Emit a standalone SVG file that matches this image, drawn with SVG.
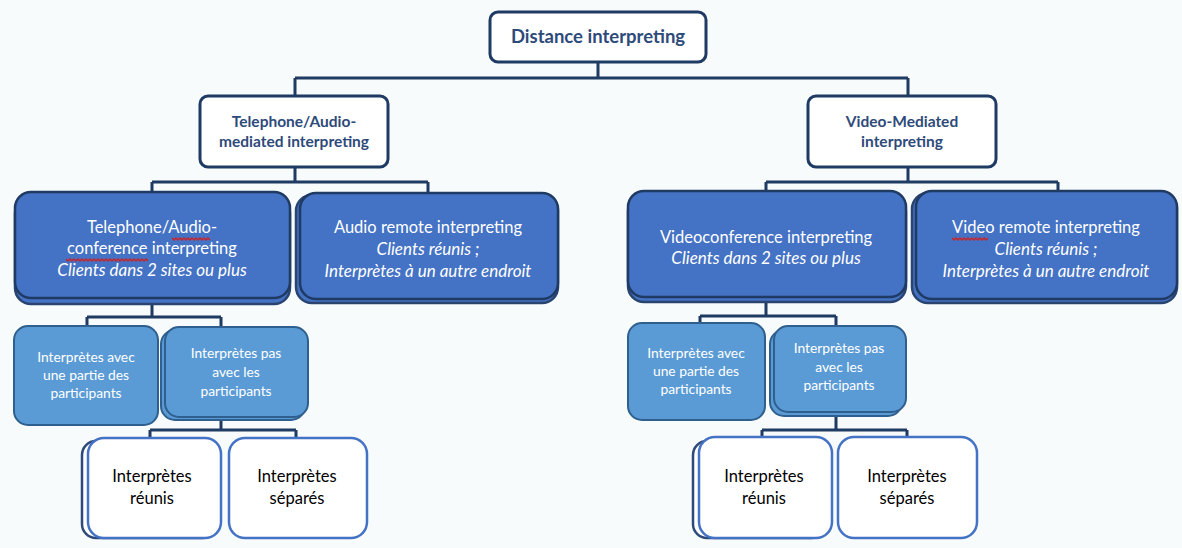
<svg xmlns="http://www.w3.org/2000/svg" width="1182" height="548" viewBox="0 0 1182 548">
<style>
.bg{fill:#f7fbfb}
.l1{fill:#ffffff;stroke:#1f3b63;stroke-width:3}
.l3{fill:#4472c4;stroke:#1f3b63;stroke-width:2.5}
.l3b{fill:#4472c4;stroke:#2a4470;stroke-width:2.5}
.l4{fill:#5b9bd5;stroke:#2e5f8f;stroke-width:2}
.l4b{fill:#5b9bd5;stroke:#2e5f8f;stroke-width:2}
.l5{fill:#ffffff;stroke:#4472c4;stroke-width:2.5}
.l5b{fill:#ffffff;stroke:#2e4a7a;stroke-width:2.5}
.conn{fill:none;stroke:#1f3b63;stroke-width:3}
.t1{font-family:Lato,"Liberation Sans",sans-serif;font-weight:bold;fill:#2e4a7a;text-anchor:middle}
.tw{font-family:Lato,"Liberation Sans",sans-serif;fill:#ffffff;text-anchor:middle;font-size:16.5px}
.tw4{font-family:Lato,"Liberation Sans",sans-serif;fill:#ffffff;text-anchor:middle;font-size:13.8px}
.tk{font-family:Lato,"Liberation Sans",sans-serif;fill:#000000;text-anchor:middle;font-size:16.5px}
.it{font-style:italic;font-size:17px}
.sq{fill:none;stroke:#d02020;stroke-width:1.3}
</style>
<rect class="bg" x="0" y="0" width="1182" height="548"/>
<g id="connectors">
<path class="conn" d="M598 62 V78 M295 78 H908 M295 78 V95 M908 78 V95"/>
<path class="conn" d="M295 167 V182 M152 182 H428 M152 182 V192 M428 182 V193"/>
<path class="conn" d="M908 167 V182 M766 182 H1058 M766 182 V191 M1058 182 V191"/>
<path class="conn" d="M152 302 V317 M87 317 H221 M87 317 V325 M221 317 V326"/>
<path class="conn" d="M221 418 V430 M150 430 H296 M150 430 V438 M296 430 V438"/>
<path class="conn" d="M766 302 V316 M700 316 H836 M700 316 V323 M836 316 V326"/>
<path class="conn" d="M836 414 V430 M762 430 H907 M762 430 V437 M907 430 V437"/>
</g>
<g id="n-distance">
<rect class="l1" x="490" y="12" width="216" height="50" rx="8"/>
<text class="t1" x="598" y="43" font-size="18.5">Distance interpreting</text>
</g>
<g id="n-audio-mediated">
<rect class="l1" x="200" y="96" width="188" height="71" rx="8"/>
<text class="t1" x="294" y="127" font-size="15.5">Telephone/Audio-</text>
<text class="t1" x="294" y="147" font-size="15.5">mediated interpreting</text>
</g>
<g id="n-video-mediated">
<rect class="l1" x="808" y="96" width="188" height="71" rx="8"/>
<text class="t1" x="902" y="127" font-size="15.5">Video-Mediated</text>
<text class="t1" x="902" y="147" font-size="15.5">interpreting</text>
</g>
<g id="n-tel-conf">
<rect class="l3b" x="15" y="198" width="275" height="106" rx="16"/>
<rect class="l3" x="15" y="192" width="275" height="106" rx="16"/>
<text class="tw" x="152" y="233">Telephone/Audio-</text>
<text class="tw" x="152" y="254">conference interpreting</text>
<text class="tw it" x="152" y="276">Clients dans 2 sites ou plus</text>
<path class="sq" d="M172 238 l2 2 l2 -2 l2 2 l2 -2 l2 2 l2 -2 l2 2 l2 -2 l2 2 l2 -2 l2 2 l2 -2 l2 2 l2 -2 l2 2 l2 -2 l2 2 l2 -2 l2 2"/>
<path class="sq" d="M66 259 l2 2 l2 -2 l2 2 l2 -2 l2 2 l2 -2 l2 2 l2 -2 l2 2 l2 -2 l2 2 l2 -2 l2 2 l2 -2 l2 2 l2 -2 l2 2 l2 -2 l2 2 l2 -2 l2 2 l2 -2 l2 2 l2 -2 l2 2 l2 -2 l2 2 l2 -2 l2 2 l2 -2 l2 2 l2 -2 l2 2 l2 -2 l2 2 l2 -2 l2 2 l2 -2 l2 2 l2 -2 l2 2"/>
</g>
<g id="n-audio-remote">
<rect class="l3b" x="296" y="195" width="262" height="108" rx="16"/>
<rect class="l3" x="300" y="193" width="258" height="106" rx="16"/>
<text class="tw" x="428" y="233">Audio remote  interpreting</text>
<text class="tw it" x="428" y="255">Clients réunis ;</text>
<text class="tw it" x="428" y="277">Interprètes à un autre endroit</text>
</g>
<g id="n-videoconf">
<rect class="l3b" x="628" y="196" width="278" height="106" rx="16"/>
<rect class="l3" x="628" y="191" width="278" height="106" rx="16"/>
<text class="tw" x="766" y="243">Videoconference interpreting</text>
<text class="tw it" x="766" y="264">Clients dans 2 sites ou plus</text>
</g>
<g id="n-video-remote">
<rect class="l3b" x="912" y="193" width="265" height="110" rx="16"/>
<rect class="l3" x="916" y="191" width="261" height="108" rx="16"/>
<text class="tw" x="1046" y="233">Video remote  interpreting</text>
<text class="tw it" x="1046" y="255">Clients réunis ;</text>
<text class="tw it" x="1046" y="277">Interprètes à un autre endroit</text>
<path class="sq" d="M952 238 l2 2 l2 -2 l2 2 l2 -2 l2 2 l2 -2 l2 2 l2 -2 l2 2 l2 -2 l2 2 l2 -2 l2 2 l2 -2 l2 2 l2 -2 l2 2 l2 -2"/>
</g>
<g id="n-tel-avec">
<rect class="l4" x="14" y="326" width="144" height="99" rx="14"/>
<text class="tw4" x="86" y="362">Interprètes avec</text>
<text class="tw4" x="86" y="380">une partie des</text>
<text class="tw4" x="86" y="398">participants</text>
</g>
<g id="n-tel-pas">
<rect class="l4b" x="161" y="330" width="144" height="90" rx="14"/>
<rect class="l4" x="165" y="327" width="143" height="90" rx="14"/>
<text class="tw4" x="236" y="358">Interprètes pas</text>
<text class="tw4" x="236" y="377">avec les</text>
<text class="tw4" x="236" y="396">participants</text>
</g>
<g id="n-tel-reunis">
<rect class="l5b" x="82" y="441" width="134" height="97" rx="14"/>
<rect class="l5" x="88" y="438" width="133" height="100" rx="16"/>
<text class="tk" x="152" y="482">Interprètes</text>
<text class="tk" x="152" y="504">réunis</text>
</g>
<g id="n-tel-separes">
<rect class="l5" x="229" y="438" width="138" height="100" rx="16"/>
<text class="tk" x="297" y="482">Interprètes</text>
<text class="tk" x="297" y="504">séparés</text>
</g>
<g id="n-vid-avec">
<rect class="l4" x="628" y="323" width="137" height="97" rx="14"/>
<text class="tw4" x="696" y="358">Interprètes avec</text>
<text class="tw4" x="696" y="376">une partie des</text>
<text class="tw4" x="696" y="394">participants</text>
</g>
<g id="n-vid-pas">
<rect class="l4b" x="770" y="330" width="132" height="86" rx="14"/>
<rect class="l4" x="774" y="326" width="132" height="86" rx="14"/>
<text class="tw4" x="839" y="353">Interprètes pas</text>
<text class="tw4" x="839" y="372">avec les</text>
<text class="tw4" x="839" y="390">participants</text>
</g>
<g id="n-vid-reunis">
<rect class="l5b" x="693" y="441" width="132" height="97" rx="14"/>
<rect class="l5" x="699" y="437" width="133" height="101" rx="16"/>
<text class="tk" x="764" y="482">Interprètes</text>
<text class="tk" x="764" y="504">réunis</text>
</g>
<g id="n-vid-separes">
<rect class="l5" x="838" y="437" width="139" height="101" rx="16"/>
<text class="tk" x="907" y="482">Interprètes</text>
<text class="tk" x="907" y="504">séparés</text>
</g>
</svg>
